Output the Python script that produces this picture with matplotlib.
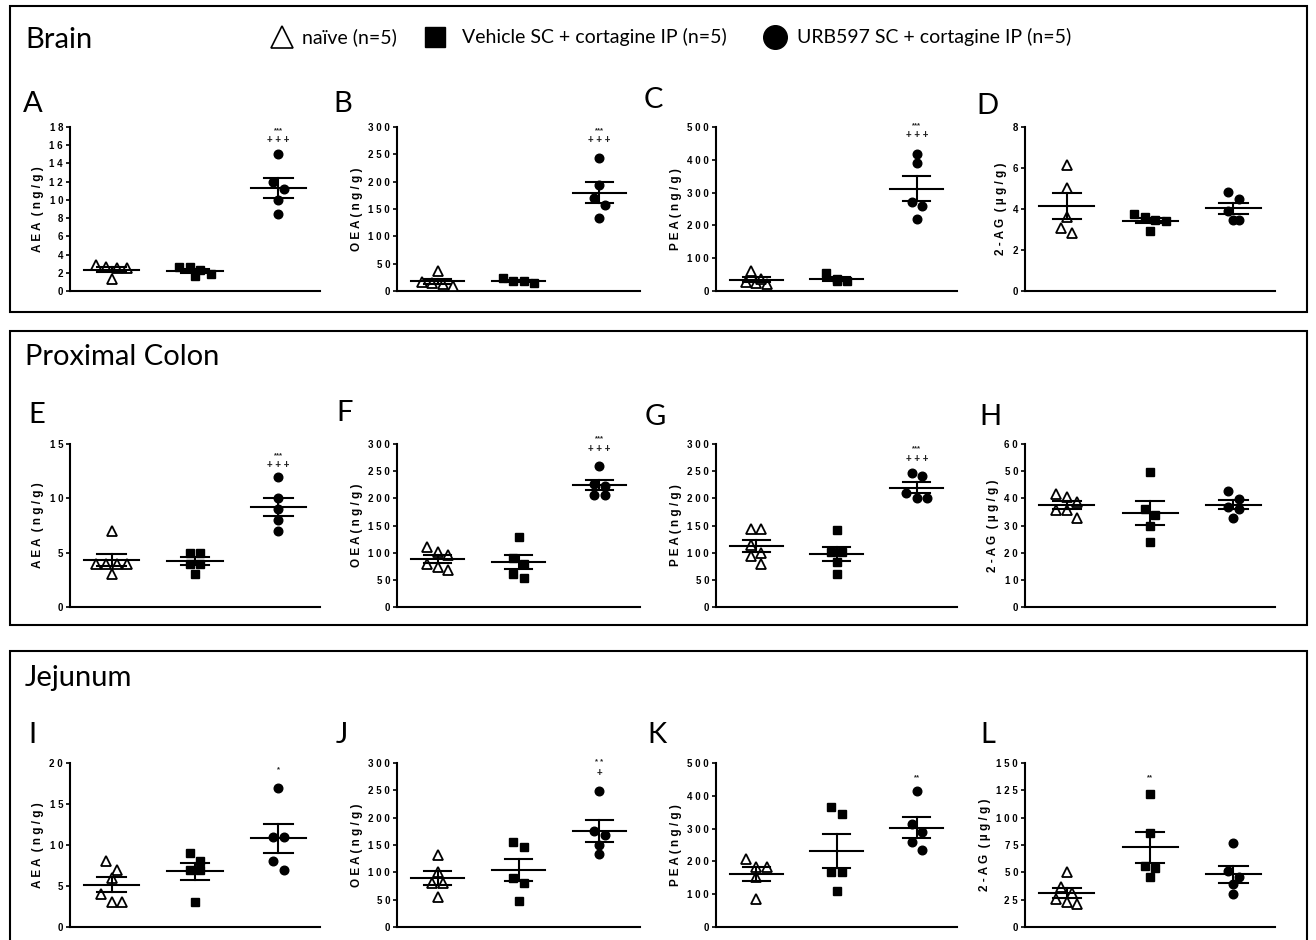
import numpy as np
import matplotlib.pyplot as plt
from matplotlib.lines import Line2D
from matplotlib.patches import Rectangle

# values: [naive, vehicle+cortagine, URB597+cortagine]
aea_brain = [[2.6, 1.3, 2.5, 2.5, 2.8], [2.6, 2.3, 1.6, 1.9, 2.6], [15, 12, 11.2, 10, 8.5]]
oea_brain = [[14, 9, 36, 12, 17], [19, 14, 18, 24], [244, 194, 170, 158, 134]]
pea_brain = [[28, 21, 62, 25, 38], [36, 29, 31, 55], [419, 390, 272, 259, 220]]
ag_brain = [[6.15, 5.02, 3.62, 3.09, 2.82], [3.75, 3.48, 3.43, 3.62, 2.91], [4.83, 4.51, 3.88, 3.45, 3.48]]

aea_colon = [[7, 4, 4, 4, 4, 3], [5, 5, 4, 4, 3], [12, 10, 9, 8, 7]]
oea_colon = [[111, 101, 96, 79, 68, 73], [128, 90, 80, 61, 53], [259, 223, 226, 207, 207]]
pea_colon = [[143, 143, 114, 93, 99, 80], [141, 101, 101, 83, 61], [247, 241, 210, 200, 200]]
ag_colon = [[41.7, 40.6, 38.7, 35.6, 35.6, 32.7], [49.8, 36, 33.9, 29.9, 23.8], [42.8, 39.9, 36.8, 35.9, 32.8]]

aea_jej = [[8, 7, 6, 4, 3, 3], [9, 8, 7, 7, 3], [17, 11, 11, 8, 7]]
oea_jej = [[132, 101, 81, 80, 54], [155, 147, 90, 81, 48], [249, 176, 169, 150, 134]]
pea_jej = [[207, 182, 182, 152, 84], [366, 346, 168, 168, 110], [416, 315, 290, 258, 236]]
ag_jej = [[49.9, 37, 31.5, 25.4, 20.8, 22.6], [122, 85.7, 56, 54, 45.9], [76.5, 51, 45.3, 38.9, 30.6]]

legend_labels = ['naïve (n=5)', 'Vehicle SC + cortagine IP (n=5)', 'URB597 SC + cortagine IP (n=5)']
section_titles = ['Brain', 'Proximal Colon', 'Jejunum']

lab_aea = 'A E A  ( n g / g )'
lab_oea = 'O E A ( n g / g )'
lab_pea = 'P E A ( n g / g )'
lab_2ag = '2 - A G  ( µ g / g )'

# letter, data, ylabel, ymax, step, significance marks (group, text, axes-fraction y)
panels = [
    ('A', aea_brain, lab_aea, 18, 2, [(2, '***', 0.98), (2, '+ + +', 0.92)]),
    ('B', oea_brain, lab_oea, 300, 50, [(2, '***', 0.98), (2, '+ + +', 0.92)]),
    ('C', pea_brain, lab_pea, 500, 100, [(2, '***', 1.01), (2, '+ + +', 0.95)]),
    ('D', ag_brain, lab_2ag, 8, 2, []),
    ('E', aea_colon, lab_aea, 15, 5, [(2, '***', 0.93), (2, '+ + +', 0.87)]),
    ('F', oea_colon, lab_oea, 300, 50, [(2, '***', 1.03), (2, '+ + +', 0.97)]),
    ('G', pea_colon, lab_pea, 300, 50, [(2, '***', 0.97), (2, '+ + +', 0.91)]),
    ('H', ag_colon, lab_2ag, 60, 10, []),
    ('I', aea_jej, lab_aea, 20, 5, [(2, '*', 0.96)]),
    ('J', oea_jej, lab_oea, 300, 50, [(2, '* *', 1.0), (2, '+', 0.94)]),
    ('K', pea_jej, lab_pea, 500, 100, [(2, '**', 0.91)]),
    ('L', ag_jej, lab_2ag, 150, 25, [(1, '**', 0.91)]),
]

W, H = 1316, 940
fig = plt.figure(figsize=(W / 100, H / 100), dpi=100)

def fx(x):
    return x / W

def fy(y):
    return 1 - y / H

row_top = [127, 444, 763]
row_bot = [291, 607, 927]
col_left = [70, 397, 716, 1025]
col_right = [320, 640, 957, 1275]
letter_pos = [(33, 104), (343, 104), (653, 100), (987, 106),
              (37, 415), (345, 413), (655, 417), (990, 417),
              (32, 735), (342, 735), (657, 735), (988, 735)]

markers = [dict(marker='^', mfc='white', mec='black', mew=1.3, ms=6.5),
           dict(marker='s', mfc='black', mec='black', ms=5.5),
           dict(marker='o', mfc='black', mec='black', ms=6.2)]

title_font = 'Lato'
tick_font = 'Liberation Sans'


def swarm(vals, px_per_y, sep_px, px_per_x):
    # simple row-centred swarm: points closer than one marker are spread sideways
    order = np.argsort(vals)[::-1]
    offs = np.zeros(len(vals))
    rows = []
    for i in order:
        if rows and abs(vals[rows[-1][0]] - vals[i]) * px_per_y < sep_px * 0.8:
            rows[-1].append(i)
        else:
            rows.append([i])
    for r in rows:
        n = len(r)
        for k, i in enumerate(r):
            offs[i] = (k - (n - 1) / 2) * sep_px / px_per_x
    return offs


for idx, (letter, data, ylab, ymax, step, sig) in enumerate(panels):
    r, c = divmod(idx, 4)
    l, rr = col_left[c], col_right[c]
    t, b = row_top[r], row_bot[r]
    ax = fig.add_axes([fx(l), fy(b), (rr - l) / W, (b - t) / H])
    ax.set_xlim(-0.5, 2.5)
    ax.set_ylim(0, ymax)
    px_y = (b - t) / ymax
    px_x = (rr - l) / 3.0
    for g, vals in enumerate(data):
        vals = np.array(vals, dtype=float)
        offs = swarm(vals, px_y, 10.5, px_x)
        ax.plot(g + offs, vals, ls='none', clip_on=False, zorder=3, **markers[g])
        m = vals.mean()
        sem = vals.std(ddof=1) / np.sqrt(len(vals))
        ax.plot([g - 0.33, g + 0.33], [m, m], color='black', lw=1.5, zorder=4)
        ax.plot([g, g], [m - sem, m + sem], color='black', lw=1.5, zorder=4)
        for e in (m - sem, m + sem):
            ax.plot([g - 0.17, g + 0.17], [e, e], color='black', lw=1.5, zorder=4)
    for g, txt, yf in sig:
        fs = 5.5 if '*' in txt else 7
        ax.text(g, yf * ymax, txt, ha='center', va='center', fontsize=fs,
                fontweight='bold', family=tick_font, color='#222222')
    for s in ('top', 'right'):
        ax.spines[s].set_visible(False)
    for s in ('left', 'bottom'):
        ax.spines[s].set_linewidth(1.5)
    ax.set_xticks([])
    ticks = np.arange(0, ymax + step / 2, step)
    ax.set_yticks(ticks)
    ax.set_yticklabels([' '.join(str(int(v))) for v in ticks], fontsize=7,
                       fontweight='bold', family=tick_font)
    ax.tick_params(axis='y', length=3, width=1.2, pad=2)
    ax.set_ylabel(ylab, fontsize=8.5, fontweight='bold', family=tick_font, labelpad=4)
    lx, ly = letter_pos[idx]
    fig.text(fx(lx), fy(ly), letter, ha='center', va='center', fontsize=21,
             family=title_font)

# section boxes and titles
boxes = [(6, 312), (331, 625), (651, 960)]
title_y = [40, 357, 678]
for (top, bot), ty, name in zip(boxes, title_y, section_titles):
    fig.add_artist(Rectangle((fx(10), fy(bot)), (1307 - 10) / W, (bot - top) / H,
                             transform=fig.transFigure, fill=False, lw=1.5,
                             edgecolor='black', clip_on=False))
    fig.text(fx(25), fy(ty), name, ha='left', va='center', fontsize=21,
             family=title_font)

# legend on top
leg_marker_x = [282, 435, 775]
leg_text_x = [302, 462, 797]
leg_ms = [dict(marker='^', mfc='white', mec='black', mew=1.2, ms=16),
          dict(marker='s', mfc='black', mec='black', ms=15),
          dict(marker='o', mfc='black', mec='black', ms=17)]
for mx, tx, lab, st in zip(leg_marker_x, leg_text_x, legend_labels, leg_ms):
    fig.add_artist(Line2D([fx(mx)], [fy(37)], transform=fig.transFigure, ls='none', **st))
    fig.text(fx(tx), fy(37), lab, ha='left', va='center', fontsize=14, family=title_font)

fig.savefig('out.png', dpi=100)
